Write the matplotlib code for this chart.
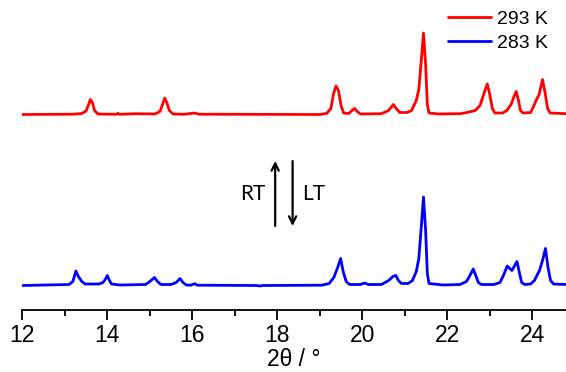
import matplotlib
matplotlib.use("Agg")
import matplotlib.pyplot as plt
from matplotlib.ticker import MultipleLocator

# ---- data (2theta in degrees, intensity in arbitrary units) ----
x_293 = [12.0, 13.20, 13.40, 13.50, 13.56, 13.60, 13.65, 13.70, 13.78, 14.22, 14.25, 14.28,
         14.69, 15.12, 15.24, 15.30, 15.35, 15.40, 15.46, 15.55, 15.80, 16.06, 16.15, 19.00,
         19.16, 19.26, 19.32, 19.38, 19.44, 19.50, 19.56, 19.68, 19.77, 19.82, 19.88, 19.96,
         20.45, 20.62, 20.73, 20.80, 20.88, 21.05, 21.16, 21.27, 21.33, 21.39, 21.44, 21.49,
         21.53, 21.57, 21.80, 22.30, 22.46, 22.66, 22.77, 22.87, 22.94, 23.00, 23.06, 23.12,
         23.30, 23.40, 23.50, 23.57, 23.62, 23.67, 23.72, 23.78, 23.96, 24.04, 24.10, 24.16,
         24.24, 24.30, 24.36, 24.42, 24.80]
y_293 = [0.0, 0.3, 1.0, 3.5, 10.0, 15.0, 12.0, 4.0, 0.5, 0.2, 1.2, 0.2,
         0.8, 0.5, 3.0, 10.0, 16.5, 12.0, 4.0, 0.5, 0.2, 1.5, 0.3, 0.0,
         1.0, 6.0, 20.0, 28.5, 24.0, 9.0, 1.5, 1.0, 4.5, 6.0, 3.0, 0.5,
         0.8, 4.0, 10.0, 6.0, 2.0, 2.0, 4.0, 14.0, 25.0, 55.0, 81.5, 50.0,
         10.0, 1.5, 0.5, 0.8, 2.0, 4.0, 9.0, 22.0, 30.5, 20.0, 6.0, 1.5,
         1.5, 4.0, 10.0, 18.0, 23.0, 15.0, 4.0, 1.5, 2.0, 9.0, 15.0, 20.0,
         35.0, 22.0, 6.0, 1.5, 0.8]

x_283 = [12.0, 13.10, 13.19, 13.26, 13.32, 13.40, 13.48, 13.80, 13.90, 13.95, 14.00, 14.05,
         14.10, 14.30, 14.90, 15.00, 15.11, 15.18, 15.26, 15.50, 15.62, 15.71, 15.78, 15.86,
         15.96, 16.06, 16.12, 17.50, 17.60, 17.65, 19.05, 19.22, 19.33, 19.42, 19.49, 19.55,
         19.62, 19.70, 19.95, 20.06, 20.14, 20.45, 20.62, 20.72, 20.79, 20.85, 20.92, 21.08,
         21.18, 21.27, 21.33, 21.39, 21.44, 21.49, 21.53, 21.57, 21.90, 22.30, 22.45, 22.52,
         22.61, 22.67, 22.73, 22.80, 23.10, 23.24, 23.32, 23.41, 23.52, 23.64, 23.70, 23.75,
         23.82, 23.96, 24.05, 24.12, 24.17, 24.24, 24.31, 24.37, 24.43, 24.50, 24.80]
y_283 = [0.0, 1.0, 4.0, 14.5, 9.0, 4.0, 1.5, 1.5, 3.0, 6.0, 10.0, 5.0,
         1.5, 0.5, 1.0, 4.0, 8.0, 4.0, 1.0, 1.0, 3.0, 7.0, 3.0, 0.5,
         0.3, 1.8, 0.3, 0.0, -0.5, 0.0, 0.3, 2.0, 8.0, 18.0, 27.0, 14.0,
         4.0, 1.0, 1.0, 2.5, 1.0, 1.0, 5.0, 9.0, 10.0, 5.0, 2.0, 2.0,
         5.0, 14.0, 27.0, 60.0, 88.5, 55.0, 12.0, 2.0, 0.5, 1.0, 4.0, 9.0,
         16.5, 10.0, 3.0, 1.0, 1.0, 3.0, 10.0, 19.5, 15.0, 24.0, 12.0, 3.0,
         1.0, 1.5, 5.0, 11.0, 15.0, 25.0, 37.0, 18.0, 5.0, 1.5, 1.0]

labels = ["293 K", "283 K"]
offset_293 = 171.0

# ---- figure ----
W, H = 566, 372
fig = plt.figure(figsize=(W / 100, H / 100), dpi=100)
ax = fig.add_axes([22.3 / W, (H - 310) / H, 1 - 22.3 / W, 310 / H])

line_kw = dict(lw=2.0, solid_joinstyle="round", solid_capstyle="round")
ax.plot(x_293, [v + offset_293 for v in y_293], color="#ff0000", label=labels[0], **line_kw)
ax.plot(x_283, y_283, color="#0000ff", label=labels[1], **line_kw)

ax.set_xlim(12, 12 + (W - 22.3) / 42.5)
ax.set_ylim(-24.5, 285.5)

for s in ["left", "right", "top"]:
    ax.spines[s].set_visible(False)
ax.spines["bottom"].set_linewidth(1.3)
ax.set_yticks([])
ax.xaxis.set_major_locator(MultipleLocator(2))
ax.xaxis.set_minor_locator(MultipleLocator(1))
ax.tick_params(axis="x", which="major", direction="out", length=7, width=1.3,
               labelsize=16.5, pad=3)
ax.tick_params(axis="x", which="minor", direction="out", length=4, width=1.3)
for t in ax.get_xticklabels():
    t.set_fontfamily("Liberation Sans")
ax.set_xlabel("2θ / °", fontsize=16.5, family="Liberation Sans", labelpad=1)

leg = ax.legend(loc="center left", bbox_to_anchor=(447.6 / W, 1 - 31 / H),
                bbox_transform=fig.transFigure, frameon=False,
                prop={"family": "Liberation Sans", "size": 14},
                handlelength=2.25, handletextpad=0.3, labelspacing=0.3,
                borderpad=0, borderaxespad=0)
for h in leg.get_lines():
    h.set_linewidth(2.0)

# arrows RT / LT
ax.annotate("", xy=(17.95, 124.5), xytext=(17.95, 59.5),
            arrowprops=dict(arrowstyle="->", lw=1.6, color="black",
                            shrinkA=0, shrinkB=0, mutation_scale=13))
ax.annotate("", xy=(18.36, 59.5), xytext=(18.36, 124.5),
            arrowprops=dict(arrowstyle="->", lw=1.6, color="black",
                            shrinkA=0, shrinkB=0, mutation_scale=13))
ax.text(17.73, 92, "RT", ha="right", va="center", fontsize=15, family="Lato")
ax.text(18.58, 92, "LT", ha="left", va="center", fontsize=15, family="Lato")

fig.savefig("out.png", dpi=100)
